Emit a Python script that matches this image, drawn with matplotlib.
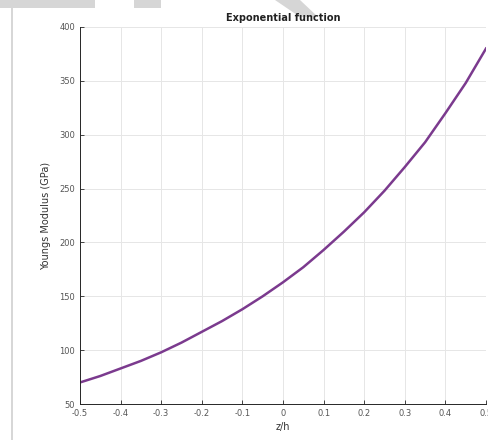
import matplotlib
matplotlib.use("Agg")
import matplotlib.pyplot as plt
from matplotlib.patches import Rectangle, Polygon

# values
zh = [-0.5, -0.45, -0.4, -0.35, -0.3, -0.25, -0.2, -0.15, -0.1, -0.05,
      0.0, 0.05, 0.1, 0.15, 0.2, 0.25, 0.3, 0.35, 0.4, 0.45, 0.5]
E = [70, 76, 83, 90, 98, 107, 117, 127, 138, 150,
     163, 177, 193, 210, 228, 248, 270, 293, 320, 348, 380]

xticks = [-0.5, -0.4, -0.3, -0.2, -0.1, 0, 0.1, 0.2, 0.3, 0.4, 0.5]
xticklabels = ['-0.5', '-0.4', '-0.3', '-0.2', '-0.1', '0', '0.1', '0.2', '0.3', '0.4', '0.5']
yticks = [50, 100, 150, 200, 250, 300, 350, 400]

fig = plt.figure(figsize=(4.88, 4.4), dpi=100)
ax = fig.add_axes([80/488, 36/440, 406/488, 377/440])
ax.patch.set_alpha(0)

ax.plot(zh, E, color='#7B3A8E', lw=1.8)
ax.set_xlim(-0.5, 0.5)
ax.set_ylim(50, 400)
ax.set_xticks(xticks)
ax.set_xticklabels(xticklabels)
ax.set_yticks(yticks)
ax.grid(True, color='#e6e6e6', lw=0.7)
ax.tick_params(direction='in', labelsize=6, colors='#262626', length=3, width=0.6,
               labelcolor='#555555')
for s in ['top', 'right']:
    ax.spines[s].set_visible(False)
for s in ['left', 'bottom']:
    ax.spines[s].set_color('#262626')
    ax.spines[s].set_linewidth(0.7)

ax.set_title('Exponential function', fontsize=7, fontweight='bold', pad=4, color='#222222')
ax.set_xlabel('z/h', fontsize=7, color='#333333', labelpad=3)
ax.set_ylabel('Youngs Modulus (GPa)', fontsize=7, color='#333333', labelpad=6)

# screenshot artefacts around the figure (behind the axes)
fig.patches.append(Rectangle((0, 432/440), 95/488, 8/440, transform=fig.transFigure,
                             color='#d6d6d6', lw=0, zorder=-1))
fig.patches.append(Rectangle((134/488, 432/440), 27/488, 8/440, transform=fig.transFigure,
                             color='#d6d6d6', lw=0, zorder=-1))
fig.patches.append(Polygon([(275/488, 1), (300/488, 1), (318/488, 423/440), (300/488, 423/440)],
                           closed=True, transform=fig.transFigure, color='#d6d6d6', lw=0, zorder=-1))
fig.add_artist(plt.Line2D([11.5/488, 11.5/488], [0, 1], transform=fig.transFigure,
                          color='#d0d0d0', lw=1.2, zorder=-1))

fig.savefig('out.png', dpi=100)
